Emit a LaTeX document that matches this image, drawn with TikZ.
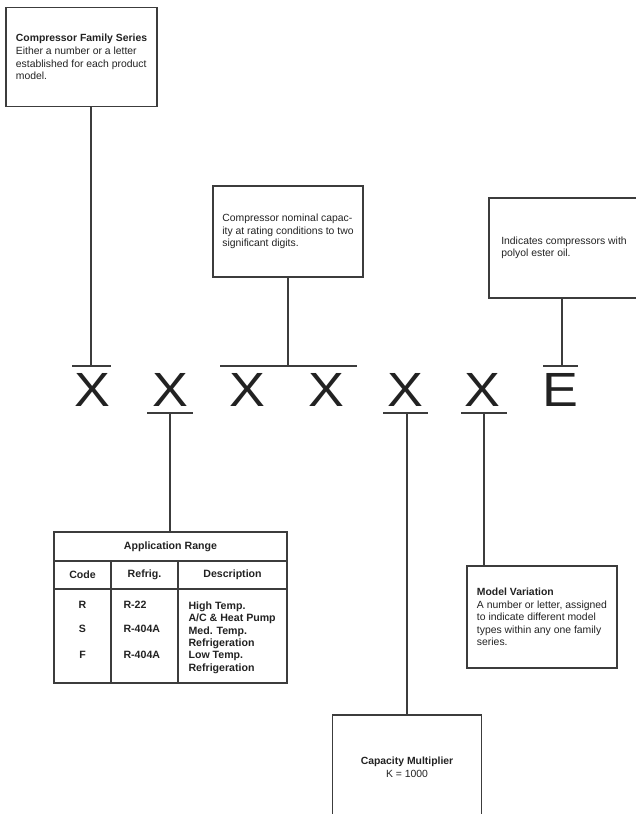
\documentclass[tikz,border=0pt]{standalone}
\usepackage{fontspec}
\setmainfont{Liberation Sans}
\newfontfamily\digitfont[FakeStretch=1.12]{Liberation Sans}
\definecolor{rule}{HTML}{3C3C3C}
\definecolor{ink}{HTML}{222222}

\begin{document}
\begin{tikzpicture}[x=1pt, y=-1pt, draw=rule, text=ink, line width=1.1pt,
  font=\fontsize{10.4}{12.6}\selectfont,
  infobox/.style={draw, rectangle, align=left, inner sep=0pt},
  digit/.style={anchor=base, inner sep=0pt, font=\digitfont\fontsize{48}{48}\selectfont},
  cell/.style={inner sep=0pt, font=\fontsize{10.6}{12.4}\selectfont\bfseries}]

\clip (0,0) rectangle (636,814);

% boxes
\node[infobox, minimum width=151pt, minimum height=99pt] (family) at (81.5,57) {\textbf{Compressor Family Series}\\Either a number or a letter\\established for each product\\model.};
\node[infobox, minimum width=150pt, minimum height=91pt] (nominal) at (288,231.5) {Compressor nominal capac-\\ity at rating conditions to two\\significant digits.};
\node[infobox, minimum width=150pt, minimum height=100pt] (polyol) at (564,248) {Indicates compressors with\\polyol ester oil.};
\node[infobox, minimum width=150pt, minimum height=102pt] (variation) at (542,617) {\textbf{Model Variation}\\A number or letter, assigned\\to indicate different model\\types within any one family\\series.};
\node[infobox, align=center, minimum width=149pt, minimum height=105pt] (multiplier) at (407,767.5) {\textbf{Capacity Multiplier}\\K = 1000};

% model number
\node[digit] (d1) at (92,406) {X};
\node[digit] (d2) at (170,406) {X};
\node[digit] (d3) at (247,406) {X};
\node[digit] (d4) at (326,406) {X};
\node[digit] (d5) at (405,406) {X};
\node[digit] (d6) at (482,406) {X};
\node[digit] (d7) at (560,406) {E};

\coordinate (top1) at (91,366);
\coordinate (top34) at (288,366);
\coordinate (top7) at (562,366);
\coordinate (bot2) at (170,413);
\coordinate (bot5) at (407,413);
\coordinate (bot6) at (484,413);

\draw (72,366) -- (111,366);
\draw (220,366) -- (357,366);
\draw (543,366) -- (578,366);
\draw (147,413) -- (193,413);
\draw (383,413) -- (428,413);
\draw (461,413) -- (507,413);

% table
\node[draw, minimum width=233pt, minimum height=151pt, inner sep=0pt] (apprange) at (170.5,607.5) {};
\draw (54,561) -- (287,561);
\draw (54,589) -- (287,589);
\draw (111,561) -- (111,683);
\draw (178,561) -- (178,683);
\node[cell] (title) at (170.5,547) {Application Range};
\node[cell] (hcode) at (82.5,575) {Code};
\node[cell] (hrefrig) at (144.5,575) {Refrig.};
\node[cell] (hdesc) at (232.5,575) {Description};
\node[cell] (codeR) at (82.5,605) {R};
\node[cell] (codeS) at (82.5,629) {S};
\node[cell] (codeF) at (82.5,655) {F};
\node[cell, anchor=west] (refR) at (123,605) {R-22};
\node[cell, anchor=west] (refS) at (123,629) {R-404A};
\node[cell, anchor=west] (refF) at (123,655) {R-404A};
\node[cell, anchor=north west, align=left] (desc) at (188,601) {High Temp.\\A/C \& Heat Pump\\Med. Temp.\\Refrigeration\\Low Temp.\\Refrigeration};

% connectors
\draw (family.south -| top1) -- (top1);
\draw (nominal.south -| top34) -- (top34);
\draw (polyol.south -| top7) -- (top7);
\draw (bot2) -- (bot2 |- apprange.north);
\draw (bot5) -- (multiplier.north);
\draw (bot6) -- (bot6 |- variation.north);
\end{tikzpicture}
\end{document}
